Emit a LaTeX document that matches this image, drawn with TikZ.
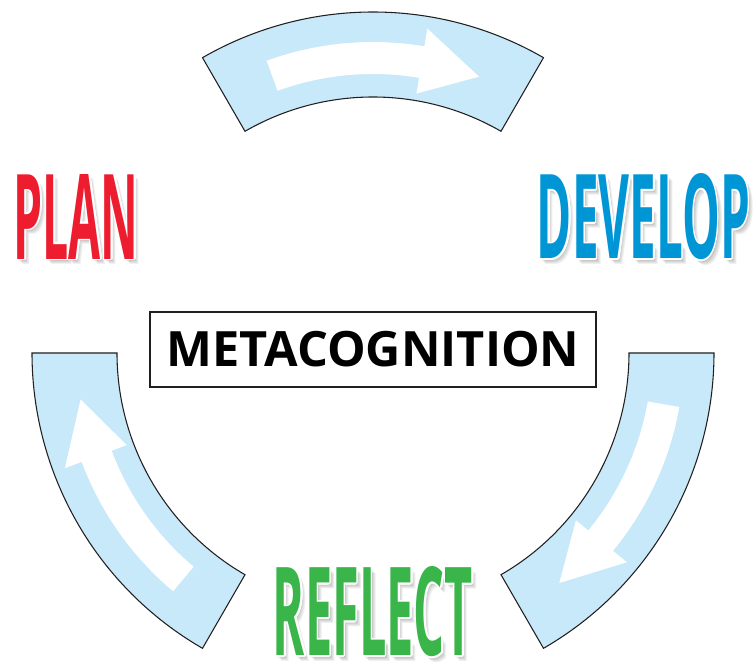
\documentclass[tikz,border=0pt]{standalone}
\usepackage{fontspec}
\setmainfont{Open Sans}
\usepackage{xcolor}
\usepackage{graphicx}
\usepackage[copies]{contour}
\contourlength{1.2pt}
\definecolor{bandblue}{RGB}{199,233,249}
\definecolor{bandline}{RGB}{35,31,32}
\definecolor{planred}{RGB}{237,28,46}
\definecolor{developblue}{RGB}{0,150,214}
\definecolor{reflectgreen}{RGB}{57,181,74}
\pgfkeys{tikz/cycleband/.style={fill=bandblue,draw=bandline,line width=0.8pt,line join=miter}}
\pgfkeys{tikz/cyclearrow/.style={fill=white}}
\pgfkeys{tikz/stageshadow/.style={inner sep=0pt,text=black,text opacity=0.06}}
\pgfkeys{tikz/stageword/.style={inner sep=0pt}}
\newcommand\bandouter{341}
\newcommand\bandinner{256}
\newcommand*\stagetext[3]{\resizebox{#2}{#3}{\bfseries #1}}

\begin{document}
\begin{tikzpicture}[x=0.75pt,y=0.75pt]
    \useasboundingbox (-373,-313) rectangle (383,353);
    % the three bands, each with its white arrow
    \foreach \a in {60,180,300} {
        \draw[cycleband] (\a:\bandouter) arc[start angle=\a,delta angle=60,radius=\bandouter]
            -- (\a+60:\bandinner) arc[start angle=\a+60,delta angle=-60,radius=\bandinner] -- cycle;
        \fill[cyclearrow] (\a+50:279) arc[start angle=\a+50,end angle=\a+20.5,radius=279]
            -- (\a+20.5:263) -- (\a+9:296) -- (\a+20.5:329) -- (\a+20.5:311)
            arc[start angle=\a+20.5,end angle=\a+50,radius=311] -- cycle;
    }
    \node[draw=bandline,line width=1.5pt,minimum width=334.5pt,minimum height=56.25pt,
        inner sep=0pt,font=\fontsize{36.5}{40}\selectfont\bfseries] (meta) at (0,3.5) {METACOGNITION};
    % stage words with shadow and white edge
    \foreach \nm/\txt/\col/\w/\h/\x/\y in {plan/PLAN/planred/93.75pt/63.75pt/-297/135.5,
        develop/DEVELOP/developblue/159.75pt/63.75pt/270.5/135.5,
        reflect/REFLECT/reflectgreen/150pt/66.75pt/0/-259.5} {
        \foreach \s in {1,2,3,4,5}
            \node[stageshadow] at (\x+\s,\y-\s) {\stagetext{\txt}{\w}{\h}};
        \node[stageword,text=\col] (\nm) at (\x,\y) {\contour{white}{\stagetext{\txt}{\w}{\h}}};
    }
\end{tikzpicture}
\end{document}
